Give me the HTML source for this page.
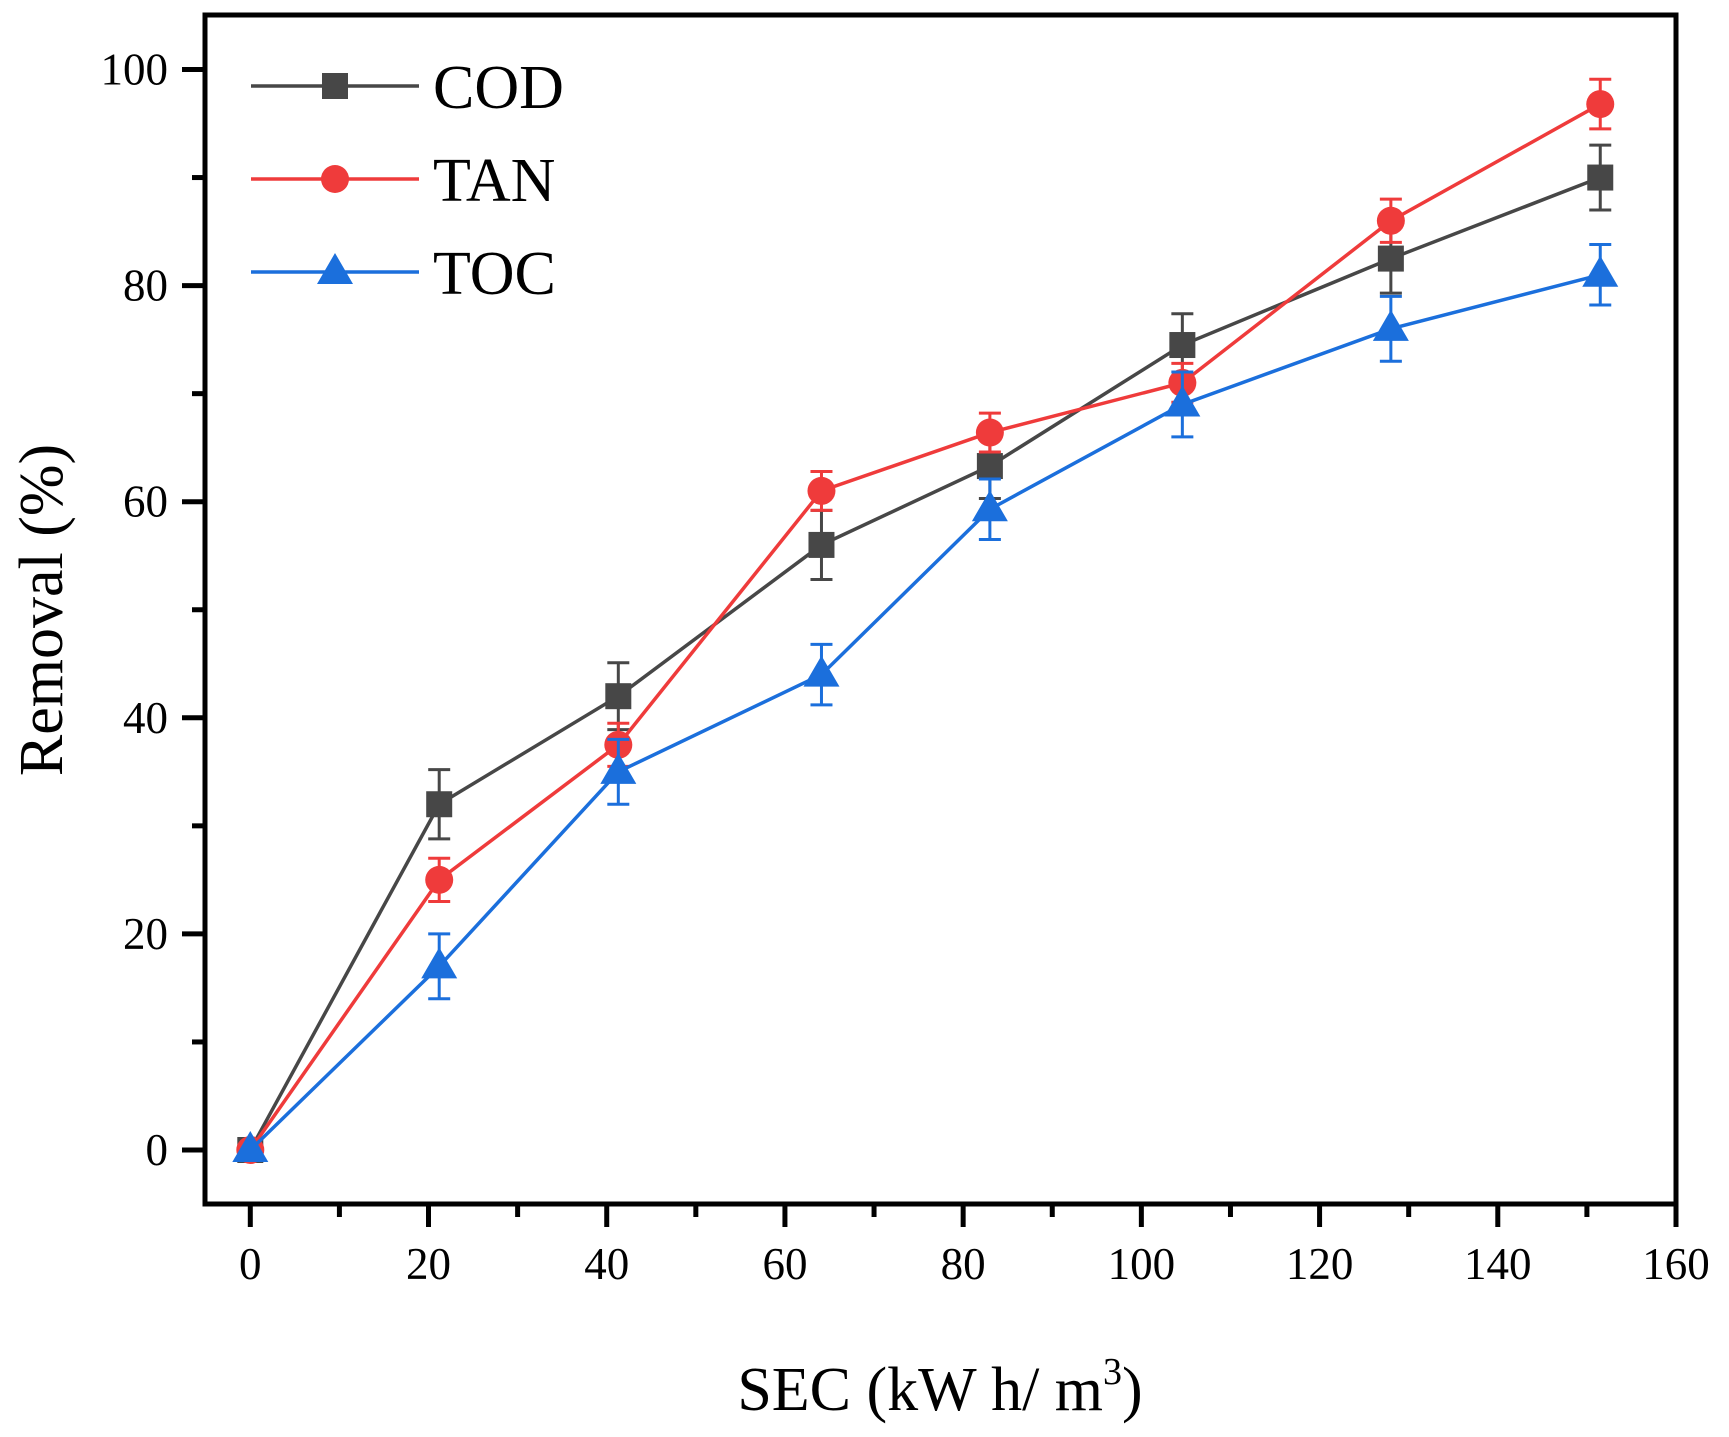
<!DOCTYPE html>
<html><head><meta charset="utf-8"><style>
body{margin:0;background:#fff}
svg text{font-family:"Liberation Serif",serif;fill:#000}
</style></head><body>
<svg id="c" width="1729" height="1432" viewBox="0 0 1729 1432" xmlns="http://www.w3.org/2000/svg"></svg>
<script>
const xVals=[0,21.2,41.3,64.1,83,104.6,128,151.5];
const codVals=[0,32,42,56,63.3,74.5,82.5,90];
const codErr=[0,3.2,3.1,3.2,3,2.9,3.2,3];
const tanVals=[0,25,37.5,61,66.4,71,86,96.8];
const tanErr=[0,2,2,1.8,1.8,1.8,2,2.3];
const tocVals=[0,17,35,44,59.3,69,76,81];
const tocErr=[0,3,3,2.8,2.8,3,3,2.8];
const xTicks=[0,20,40,60,80,100,120,140,160];
const yTicks=[0,20,40,60,80,100];
const L=205,R=1676,T=15,B=1204;
const X=v=>250.3+v*(1676-250.3)/160;
const Y=v=>1150-v*(1150-69.5)/100;
const svg=document.getElementById('c');
const NS='http://www.w3.org/2000/svg';
function mk(t,a,p){const e=document.createElementNS(NS,t);for(const k in a)e.setAttribute(k,a[k]);(p||svg).appendChild(e);return e;}
let e;
e=mk('rect',{x:L,y:T,width:R-L,height:B-T,fill:'none',stroke:'#000','stroke-width':5});


xTicks.forEach((t,i)=>{
  e=mk('line',{x1:X(t),x2:X(t),y1:B,y2:B+23,stroke:'#000','stroke-width':5});
  
  
  if(i<xTicks.length-1){e=mk('line',{x1:X(t+10),x2:X(t+10),y1:B,y2:B+13,stroke:'#000','stroke-width':5});
  
  }
  e=mk('text',{x:X(t),y:1279,'text-anchor':'middle','font-size':45});e.textContent=t;
  
  
});
yTicks.forEach((t,i)=>{
  e=mk('line',{x1:L-23,x2:L,y1:Y(t),y2:Y(t),stroke:'#000','stroke-width':5});
  
  
  if(i<yTicks.length-1){e=mk('line',{x1:L-13,x2:L,y1:Y(t+10),y2:Y(t+10),stroke:'#000','stroke-width':5});
  
  }
  e=mk('text',{x:168,y:Y(t)+15,'text-anchor':'end','font-size':45});e.textContent=t;
  
  
});
e=mk('text',{x:940,y:1410,'text-anchor':'middle','font-size':62});
e.innerHTML='SEC (kW h/ m<tspan dy="-26" font-size="38">3</tspan><tspan dy="26">)</tspan>';


e=mk('text',{x:0,y:0,'text-anchor':'middle','font-size':62,transform:'translate(62,610) rotate(-90)'});e.textContent='Removal (%)';


function marker(kind,cx,cy,col,name){
  let m;
  if(kind==='sq')m=mk('rect',{x:cx-13,y:cy-13,width:26,height:26,fill:col});
  else if(kind==='ci')m=mk('circle',{cx:cx,cy:cy,r:14,fill:col});
  else m=mk('polygon',{points:`${cx},${cy-19} ${cx-18},${cy+12} ${cx+18},${cy+12}`,fill:col});
  
  
}
function series(vals,err,col,kind,name){
  const pts=vals.map((v,i)=>X(xVals[i])+','+Y(v)).join(' ');
  e=mk('polyline',{points:pts,fill:'none',stroke:col,'stroke-width':3.5});
  
  
  vals.forEach((v,i)=>{
    const x=X(xVals[i]);
    if(err[i]>0){
      e=mk('path',{d:`M${x},${Y(v-err[i])}V${Y(v+err[i])}M${x-11},${Y(v-err[i])}h22M${x-11},${Y(v+err[i])}h22`,stroke:col,'stroke-width':3,fill:'none'});
      
      
    }
    marker(kind,x,Y(v),col,name+'-point');
  });
}
series(codVals,codErr,'#474747','sq','cod');
series(tanVals,tanErr,'#ef3b3b','ci','tan');
series(tocVals,tocErr,'#1b6fdc','tr','toc');
const leg=[['COD','#474747','sq',86],['TAN','#ef3b3b','ci',179],['TOC','#1b6fdc','tr',272]];
leg.forEach(l=>{
  e=mk('line',{x1:251,x2:419,y1:l[3],y2:l[3],stroke:l[1],'stroke-width':3.5});
  
  
  marker(l[2],335,l[3],l[1],'legend-marker');
  e=mk('text',{x:433,y:l[3]+22,'font-size':62});e.textContent=l[0];
  
  
});
</script>
</body></html>
